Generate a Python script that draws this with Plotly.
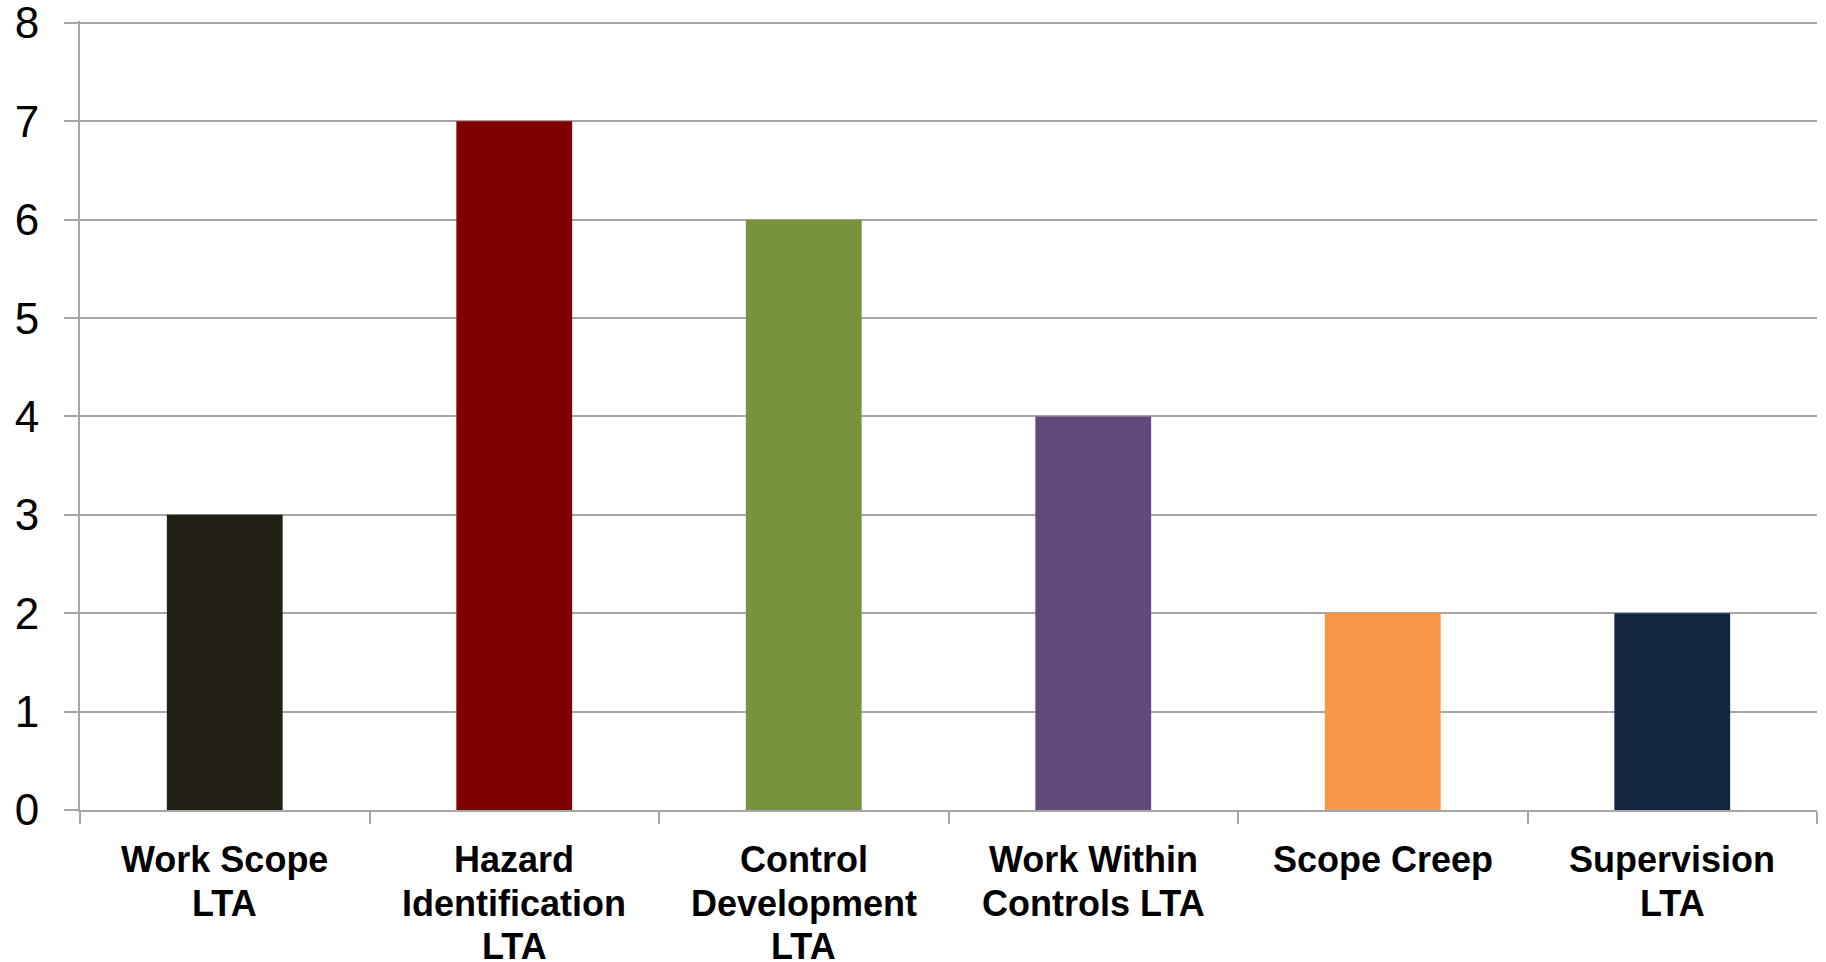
import plotly.graph_objects as go

categories = ["Work Scope<br>LTA", "Hazard<br>Identification<br>LTA", "Control<br>Development<br>LTA",
              "Work Within<br>Controls LTA", "Scope Creep", "Supervision<br>LTA"]
values = [3, 7, 6, 4, 2, 2]
colors = ["#221F14", "#7F0000", "#77933C", "#604A7B", "#F79646", "#12263F"]
y_ticks = [0, 1, 2, 3, 4, 5, 6, 7, 8]

fig = go.Figure(go.Bar(
    x=categories, y=values, marker=dict(color=colors, line=dict(width=0)), width=0.4,
))

# category labels, one line at a time for tighter line spacing
for cat in categories:
    for i, line in enumerate(cat.split("<br>")):
        fig.add_annotation(
            x=cat, y=0, xref="x", yref="y", text=line, showarrow=False,
            yanchor="top", xanchor="center", yshift=-27 - i * 43.5,
            font=dict(size=36, color="black", weight="bold",
                      family="Liberation Sans, Arial, sans-serif"),
        )

fig.update_layout(
    width=1826, height=962,
    margin=dict(l=80, r=9, t=21, b=152),
    paper_bgcolor="white", plot_bgcolor="white",
    showlegend=False,
    font=dict(family="Liberation Sans, Arial, sans-serif", color="black"),
)
fig.update_yaxes(
    range=[0, 8.02], tickvals=y_ticks, ticktext=[str(v) for v in y_ticks],
    showgrid=True, gridcolor="#A6A6A6", gridwidth=2,
    showline=True, linecolor="#A6A6A6", linewidth=2,
    ticks="outside", ticklen=14, tickcolor="#A6A6A6", tickwidth=2,
    tickfont=dict(size=44, color="black"), ticklabelstandoff=16, zeroline=False,
    automargin=False, ticklabeloverflow="allow",
)
fig.update_xaxes(
    type="category", tickson="boundaries", ticks="outside", ticklen=12,
    tickcolor="#A6A6A6", tickwidth=2, showline=True, linecolor="#A6A6A6", linewidth=2,
    showticklabels=False, showgrid=False, automargin=False,
)

fig.write_html("out.html")
